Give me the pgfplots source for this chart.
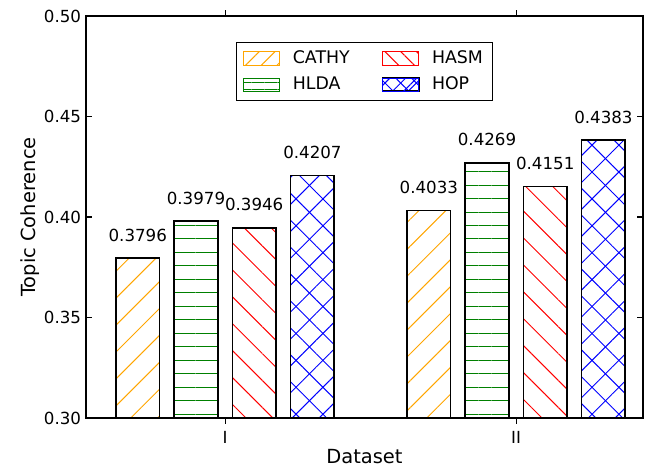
\documentclass[border=0pt]{standalone}
\usepackage{fontspec}
\setmainfont{DejaVu Sans}
\usepackage{pgfplots}
\pgfplotsset{compat=1.18}
\usetikzlibrary{patterns.meta}
\definecolor{mplorange}{RGB}{255,165,0}
\definecolor{mplgreen}{RGB}{0,128,0}
\definecolor{mplred}{RGB}{255,0,0}
\definecolor{mplblue}{RGB}{0,0,255}
\tikzset{
  hne/.style={pattern={Lines[angle=45,distance=13.7pt,line width=0.7pt]}},
  hnw/.style={pattern={Lines[angle=-45,distance=13.7pt,line width=0.7pt]}},
  hh/.style={pattern={Lines[angle=0,distance=9.7pt,line width=0.7pt]}},
  hnel/.style={pattern={Lines[angle=45,distance=8pt,line width=0.7pt]}},
  hnwl/.style={pattern={Lines[angle=-45,distance=8pt,line width=0.7pt]}},
  hhl/.style={pattern={Lines[angle=0,distance=4.7pt,line width=0.7pt]}},
}
\begin{document}
\begin{tikzpicture}
\begin{axis}[
  at={(0,0)}, anchor=south west,
  scale only axis, width=401.04pt, height=289.44pt,
  xmin=-0.478, xmax=1.436, ymin=0.30, ymax=0.50,
  xtick={0,1}, xticklabels={I,II},
  ytick={0.30,0.35,0.40,0.45,0.50},
  yticklabel style={/pgf/number format/.cd,fixed,fixed zerofill,precision=2},
  /pgf/number format/assume math mode=true,
  tick align=inside, xtick pos=both, ytick pos=both,
  major tick length=4pt,
  axis line style={line width=0.8pt},
  tick style={line width=0.8pt, black},
  ticklabel style={font=\fontsize{12}{14}\selectfont},
  xticklabel style={anchor=base, yshift=-14.2pt},
  label style={font=\fontsize{14}{17}\selectfont},
  xlabel={Dataset}, ylabel={Topic Coherence},
  xlabel style={at={(axis description cs:0.5,-0.112)}, anchor=base},
  ylabel style={at={(axis description cs:-0.1005,0.5)}, anchor=center},
  ybar, bar width=0.15,
  legend columns=2,
  legend style={at={(0.5,0.935)}, anchor=north, draw=black, line width=0.8pt,
    font=\fontsize{12.5}{15}\selectfont, inner xsep=5pt, inner ysep=4pt,
    row sep=4pt,
    /tikz/every odd column/.append style={column sep=7pt},
    /tikz/every even column/.append style={column sep=21pt}},
  legend cell align=left,
]
% CATHY
\addplot[draw=black, line width=1.2pt, hne, pattern color=mplorange, bar shift=-0.3,
  nodes near coords={\pgfmathprintnumber[fixed,fixed zerofill,precision=4]{\pgfplotspointmeta}},
  nodes near coords style={font=\fontsize{12}{14}\selectfont, anchor=base, inner sep=0pt, yshift=12.2pt, text=black},
  legend image code/.code={\draw[hnel, pattern color=mplorange, draw=mplorange, line width=0.7pt] (0pt,-4.7pt) rectangle (26pt,4.7pt);}]
  coordinates {(0,0.3796) (1,0.4033)};
\addlegendentry{CATHY}
% HASM
\addplot[draw=black, line width=1.2pt, hnw, pattern color=mplred, bar shift=0.1,
  nodes near coords={\pgfmathprintnumber[fixed,fixed zerofill,precision=4]{\pgfplotspointmeta}},
  nodes near coords style={font=\fontsize{12}{14}\selectfont, anchor=base, inner sep=0pt, yshift=12.2pt, text=black},
  legend image code/.code={\draw[hnwl, pattern color=mplred, draw=mplred, line width=0.7pt] (0pt,-4.7pt) rectangle (26pt,4.7pt);}]
  coordinates {(0,0.3946) (1,0.4151)};
\addlegendentry{HASM}
% HLDA
\addplot[draw=black, line width=1.2pt, hh, pattern color=mplgreen, bar shift=-0.1,
  nodes near coords={\pgfmathprintnumber[fixed,fixed zerofill,precision=4]{\pgfplotspointmeta}},
  nodes near coords style={font=\fontsize{12}{14}\selectfont, anchor=base, inner sep=0pt, yshift=12.2pt, text=black},
  legend image code/.code={\draw[hhl, pattern color=mplgreen, draw=mplgreen, line width=0.7pt] (0pt,-4.7pt) rectangle (26pt,4.7pt);}]
  coordinates {(0,0.3979) (1,0.4269)};
\addlegendentry{HLDA}
% HOP
\addplot[draw=black, line width=1.2pt, hne, pattern color=mplblue, bar shift=0.3,
  nodes near coords={\pgfmathprintnumber[fixed,fixed zerofill,precision=4]{\pgfplotspointmeta}},
  nodes near coords style={font=\fontsize{12}{14}\selectfont, anchor=base, inner sep=0pt, yshift=12.2pt, text=black},
  legend image code/.code={\fill[hnel, pattern color=mplblue] (0pt,-4.7pt) rectangle (26pt,4.7pt);
    \fill[hnwl, pattern color=mplblue] (0pt,-4.7pt) rectangle (26pt,4.7pt);
    \draw[draw=mplblue, line width=0.7pt] (0pt,-4.7pt) rectangle (26pt,4.7pt);}]
  coordinates {(0,0.4207) (1,0.4383)};
\addlegendentry{HOP}
\addplot[forget plot, draw=black, line width=1.2pt, hnw, pattern color=mplblue, bar shift=0.3]
  coordinates {(0,0.4207) (1,0.4383)};
\end{axis}
\pgfresetboundingbox
\useasboundingbox (-61.92pt,-36pt) rectangle (408.96pt,300.96pt);
\end{tikzpicture}
\end{document}
